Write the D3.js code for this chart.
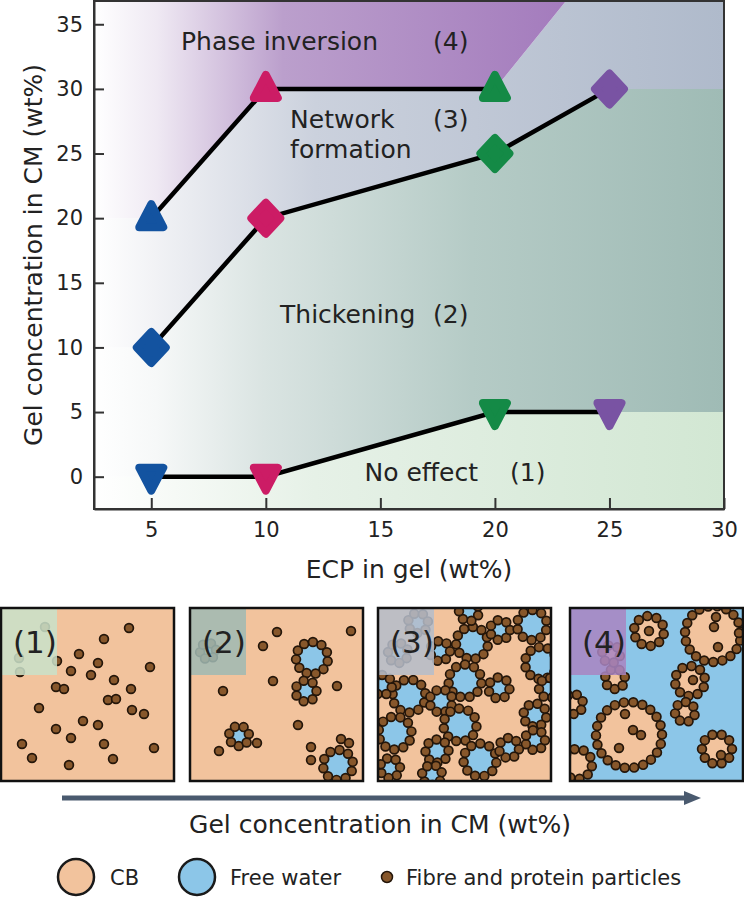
<!DOCTYPE html>
<html lang="en">
<head>
  <meta charset="UTF-8">
  <title>ECP in gel vs gel concentration</title>
  <style>
    * { margin: 0; }
    body { background: #fff; font-family: "DejaVu Sans", sans-serif; }
    svg { display: block; }
    text { fill: #222; font-family: "DejaVu Sans", sans-serif; }
    .axis text { font-size: 21px; fill: #222; }
    .axis path, .axis line { stroke: #333; stroke-width: 2; }
  </style>
</head>
<body>
  <div id="chart"></div>
  <script src="https://cdn.jsdelivr.net/npm/d3@7"></script>
  <script>
    // ---- chart data (wt%) ----
    const xTicks = [5, 10, 15, 20, 25, 30];
    const yTicks = [0, 5, 10, 15, 20, 25, 30, 35];
    const upperLine = [[5, 20], [10, 30], [20, 30]];           // triangles up
    const middleLine = [[5, 10], [10, 20], [20, 25], [25, 30]]; // diamonds
    const lowerLine = [[5, 0], [10, 0], [20, 5], [25, 5]];      // triangles down
    const inversionTop = [23.1, 36.8]; // phase-inversion edge meets the frame

    const regionLabels = [
      ['Phase inversion', 6.3, 33.0], ['(4)', 17.3, 33.0],
      ['Network', 11.06, 27.0], ['formation', 11.06, 24.65], ['(3)', 17.3, 27.0],
      ['Thickening', 10.62, 11.9], ['(2)', 17.3, 11.9],
      ['No effect', 14.31, -0.33], ['(1)', 20.66, -0.33]
    ];

    // ---- schematic panels (local px in a 173 box) ----
    const panel1Free = [[128, 20], [103, 31], [78, 46], [56, 53], [97, 55], [149, 59], [70, 63], [90, 67],
      [113, 72], [55, 79], [63, 81], [130, 81], [107, 92], [115, 91], [38, 100], [131, 102], [143, 106],
      [82, 113], [97, 117], [55, 121], [70, 130], [103, 136], [21, 136], [153, 140], [31, 150], [112, 151],
      [68, 157], [44, 19], [18, 50], [19, 64]];
    const panel2Rings = [[122, 50, 16], [116, 83, 10.5], [49, 128, 10], [148, 157, 15], [18, 43, 8]];
    const panel2Free = [[87, 24], [161, 23], [73, 38], [33, 83], [83, 73], [147, 78], [108, 117], [29, 143],
      [121, 139], [121, 152], [67, 135], [151, 131], [159, 135]];
    const panel3Rings = [[94, 35, 16], [122, 22, 10], [154, 17, 15], [163, 55, 16], [87, 73, 16.5],
      [121, 80, 10.5], [31, 88, 16.5], [63, 93, 11.5], [82, 117, 16.5], [157, 107, 11.5], [157, 132, 10],
      [17, 125, 16.5], [59, 143, 11.5], [102, 152, 16.5], [131, 140, 10], [12, 160, 10], [54, 167, 10],
      [91, 3, 10], [4, 77, 10], [62, 43, 10], [40, 15, 10], [20, 45, 10], [171, 80, 10]];
    const panel4Drops = [[79, 23, 15], [143, 26, 28], [45, 71, 10], [120, 73, 15], [115, 104, 10],
      [59, 127, 33], [147, 141, 15], [3, 96, 10], [7, 156, 15], [41, 46, 9]];
    const panel4Inner = [[79, 23], [146, 9], [144, 19], [148, 39], [169, 25], [123, 72], [55, 106],
      [63, 122], [71, 127], [49, 140], [151, 147]];

    const markerColor = { 5: '#1353a0', 10: '#cc1c65', 20: '#148a46', 25: '#7953a3' };
    const CB = '#f2c39d', WATER = '#8cc6e8';

    const svg = d3.select('#chart').append('svg').attr('width', 744).attr('height', 897);
    const x = d3.scaleLinear().domain([2.5, 30]).range([94, 724]);
    const y = d3.scaleLinear().domain([-2.5, 36.8]).range([509, 1]);
    const [x0, x1] = x.domain(), [yb, yt] = y.domain();

    const defs = svg.append('defs');
    function gradient(id, stops) {
      const g = defs.append('linearGradient').attr('id', id)
        .attr('gradientUnits', 'userSpaceOnUse')
        .attr('x1', x(x0)).attr('x2', x(x1)).attr('y1', 0).attr('y2', 0);
      stops.forEach(([o, c]) => g.append('stop').attr('offset', o).attr('stop-color', c));
    }
    gradient('g4', [[0, '#ffffff'], [0.1, '#efe9f3'], [0.3, '#bb9fcc'], [0.74, '#a47cbd'], [1, '#9d74b9']]);
    gradient('g3', [[0, '#ffffff'], [0.1, '#f1f2f5'], [0.35, '#cbd1dd'], [1, '#afbacb']]);
    gradient('g2', [[0, '#ffffff'], [0.1, '#f6f8f8'], [0.27, '#dae4e2'], [0.6, '#b5cbc6'], [1, '#9fbbb5']]);
    gradient('g1', [[0, '#ffffff'], [0.1, '#f8fbf8'], [0.35, '#e6f1e7'], [1, '#d2e7d3']]);

    const line = d3.line().x(d => x(d[0])).y(d => y(d[1]));
    const rev = a => a.slice().reverse();
    const bands = [
      ['g1', [[x0, yb], [x0, 0], ...lowerLine, [x1, 5], [x1, yb]]],
      ['g2', [[x0, 0], ...lowerLine, [x1, 5], [x1, 30], ...rev(middleLine), [x0, 10]]],
      ['g3', [[x0, 10], ...middleLine, [x1, 30], [x1, yt], inversionTop, ...rev(upperLine), [x0, 20]]],
      ['g4', [[x0, 20], ...upperLine, inversionTop, [x0, yt]]]
    ];
    svg.append('g').selectAll('path').data(bands).enter().append('path')
      .attr('d', d => line(d[1]) + 'Z')
      .attr('fill', d => `url(#${d[0]})`);

    // lines
    [upperLine, middleLine, lowerLine].forEach(pts => {
      svg.append('path').attr('d', line(pts))
        .attr('fill', 'none').attr('stroke', '#000').attr('stroke-width', 4.5);
    });

    // markers
    const shapes = {
      up: 'M0,-14L12,9L-12,9Z',
      diamond: 'M0,-15.5L14.5,0L0,15.5L-14.5,0Z',
      down: 'M0,14L12,-9L-12,-9Z'
    };
    [[upperLine, 'up'], [middleLine, 'diamond'], [lowerLine, 'down']].forEach(([pts, s]) => {
      svg.append('g').selectAll('path').data(pts).enter().append('path')
        .attr('transform', d => `translate(${x(d[0])},${y(d[1])})`)
        .attr('d', shapes[s])
        .attr('fill', d => markerColor[d[0]])
        .attr('stroke', d => markerColor[d[0]])
        .attr('stroke-width', 8)
        .attr('stroke-linejoin', 'round');
    });

    svg.append('g').selectAll('text').data(regionLabels).enter().append('text')
      .attr('x', d => x(d[1])).attr('y', d => y(d[2]))
      .style('font-size', '25px')
      .text(d => d[0]);

    // axes
    svg.append('g').attr('class', 'axis')
      .attr('transform', `translate(${x(x0)},0)`)
      .call(d3.axisLeft(y).tickValues(yTicks).tickSize(-10).tickSizeOuter(0).tickPadding(11));
    svg.append('g').attr('class', 'axis')
      .attr('transform', `translate(0,${y(yb)})`)
      .call(d3.axisBottom(x).tickValues(xTicks).tickSize(-11).tickSizeOuter(0).tickPadding(13));
    svg.append('rect')
      .attr('x', x(x0)).attr('y', y(yt)).attr('width', x(x1) - x(x0)).attr('height', y(yb) - y(yt))
      .attr('fill', 'none').attr('stroke', '#333').attr('stroke-width', 2);

    svg.append('text').attr('transform', 'translate(42,255) rotate(-90)')
      .attr('text-anchor', 'middle').style('font-size', '25px')
      .text('Gel concentration in CM (wt%)');
    svg.append('text').attr('x', 409).attr('y', 578)
      .attr('text-anchor', 'middle').style('font-size', '25px')
      .text('ECP in gel (wt%)');

    // ---- schematic panels ----
    const SIZE = 173, PR = 4.4, GAP = 9.4;
    function ringPoints(rings, offset) {
      const pts = [];
      rings.forEach((r, i) => {
        const n = Math.max(6, Math.round(2 * Math.PI * r[2] / GAP));
        for (let k = 0; k < n; k++) {
          const a = offset + i * 0.7 + k * 2 * Math.PI / n;
          pts.push([r[0] + r[2] * Math.cos(a), r[1] + r[2] * Math.sin(a)]);
        }
      });
      return pts;
    }

    function drawPanel(px, cfg, idx) {
      const g = svg.append('g').attr('transform', `translate(${px},608)`);
      defs.append('clipPath').attr('id', 'clip' + idx)
        .append('rect').attr('width', SIZE).attr('height', SIZE);
      const inner = g.append('g').attr('clip-path', `url(#clip${idx})`);
      inner.append('rect').attr('width', SIZE).attr('height', SIZE).attr('fill', cfg.bg);
      inner.selectAll('circle.core').data(cfg.rings).enter().append('circle')
        .attr('cx', d => d[0]).attr('cy', d => d[1]).attr('r', d => d[2])
        .attr('fill', cfg.core);
      const parts = ringPoints(cfg.rings, 0.2).concat(cfg.free);
      inner.selectAll('circle.p').data(parts).enter().append('circle')
        .attr('cx', d => d[0]).attr('cy', d => d[1]).attr('r', PR)
        .attr('fill', '#87572b').attr('stroke', '#24160a').attr('stroke-width', 1.7);
      inner.append('rect').attr('width', 56).attr('height', 67)
        .attr('fill', cfg.box).attr('opacity', 0.86);
      g.append('text').attr('x', 12).attr('y', 45).style('font-size', '31px').text(cfg.label);
      g.append('rect').attr('width', SIZE).attr('height', SIZE)
        .attr('fill', 'none').attr('stroke', '#111').attr('stroke-width', 2.5);
    }

    drawPanel(1, { bg: CB, core: WATER, rings: [], free: panel1Free, box: '#c9e1c9', label: '(1)' }, 1);
    drawPanel(190, { bg: CB, core: WATER, rings: panel2Rings, free: panel2Free, box: '#9fb9b3', label: '(2)' }, 2);
    drawPanel(378, { bg: CB, core: WATER, rings: panel3Rings, free: [], box: '#b5bdcb', label: '(3)' }, 3);
    drawPanel(570, { bg: WATER, core: CB, rings: panel4Drops, free: panel4Inner, box: '#a985c1', label: '(4)' }, 4);

    // arrow
    svg.append('line').attr('x1', 62).attr('x2', 686).attr('y1', 798).attr('y2', 798)
      .attr('stroke', '#4a5a6f').attr('stroke-width', 5);
    svg.append('path').attr('d', 'M684,791L701,798L684,805Z').attr('fill', '#4a5a6f');
    svg.append('text').attr('x', 380).attr('y', 833).attr('text-anchor', 'middle')
      .style('font-size', '25px').text('Gel concentration in CM (wt%)');

    // legend
    const legend = [
      { cx: 76, r: 18, fill: CB, tx: 110, label: 'CB' },
      { cx: 197, r: 18, fill: WATER, tx: 230, label: 'Free water' },
      { cx: 387, r: 5.5, fill: '#87572b', tx: 406, label: 'Fibre and protein particles' }
    ];
    const lg = svg.append('g').selectAll('g').data(legend).enter().append('g');
    lg.append('circle').attr('cx', d => d.cx).attr('cy', 877).attr('r', d => d.r)
      .attr('fill', d => d.fill).attr('stroke', d => d.r > 10 ? '#1a1a1a' : '#24160a')
      .attr('stroke-width', d => d.r > 10 ? 2.5 : 1.5);
    lg.append('text').attr('x', d => d.tx).attr('y', 885).style('font-size', '21px').text(d => d.label);
  </script>
</body>
</html>
